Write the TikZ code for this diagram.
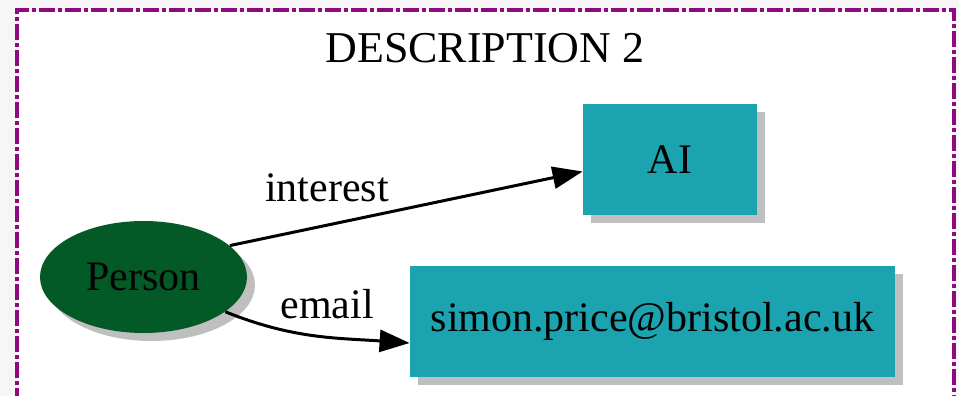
\documentclass[tikz,border=0pt]{standalone}
\usepackage{fontspec}
\setmainfont{Liberation Serif}
\usetikzlibrary{shapes.geometric,shadows,arrows.meta}
\definecolor{framepurple}{RGB}{143,10,126}
\definecolor{boxteal}{RGB}{27,163,175}
\definecolor{persongreen}{RGB}{4,90,39}
\begin{document}
\begin{tikzpicture}[x=0.5pt,y=-0.5pt,
    box/.style={rectangle, fill=boxteal, inner sep=0pt,
      minimum height=55.5pt, font=\fontsize{21}{25}\selectfont,
      drop shadow={shadow xshift=4pt, shadow yshift=-4pt, fill=black, opacity=0.25}},
    person/.style={ellipse, fill=persongreen, inner sep=0pt,
      minimum width=103.5pt, minimum height=56pt, font=\fontsize{21}{25}\selectfont,
      drop shadow={shadow xshift=4pt, shadow yshift=-4pt, fill=black, opacity=0.25}},
    lbl/.style={font=\fontsize{21}{25}\selectfont, inner sep=0pt},
    arc/.style={line width=1.5pt, -{Triangle[length=15pt,width=11pt]}}]
    \clip (0,0) rectangle (959,396);
    \fill[gray!7] (0,0) rectangle (959,396);
    \fill[white] (17,10) rectangle (954,430);
    \draw[framepurple, line width=1.75pt, dash pattern=on 8pt off 1.5pt on 2pt off 1.5pt]
      (17,430) -- (17,10) -- (954,10) -- (954,430);

    \node[lbl, font=\fontsize{22}{26}\selectfont] (title) at (485,48) {DESCRIPTION 2};

    \node[person] (person) at (143.5,277) {Person};
    \node[box, minimum width=87pt] (ai) at (670,159.5) {AI};
    \node[box, minimum width=242.5pt] (mail) at (652.5,321.5) {simon.price@bristol.ac.uk};

    \draw[arc] (person.20) -- ([yshift=-6pt]ai.west);
    \draw[arc] (person.-23) to[out=-22,in=176] ([yshift=-10.75pt]mail.west);

    \node[lbl] (interestlbl) at (327,188) {interest};
    \node[lbl] (emaillbl) at (327,304) {email};
  \end{tikzpicture}
\end{document}
